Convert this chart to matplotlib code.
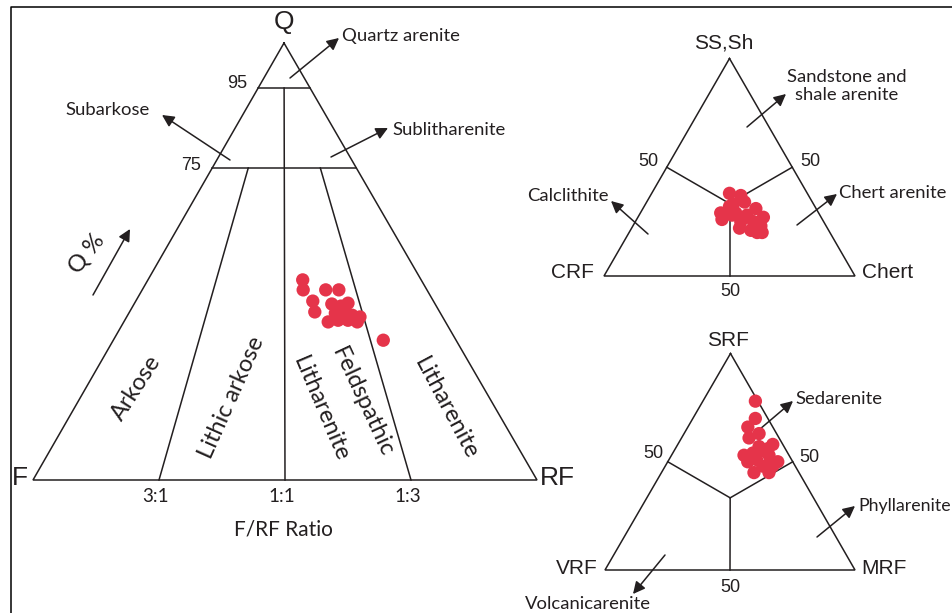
import numpy as np
import matplotlib
matplotlib.use('Agg')
from matplotlib import pyplot as plt

# Q-F-RF main diagram: sample compositions (%)
qfr_q = [48.1, 45.7, 45.7, 45.7, 43.0, 40.4, 42.3, 41.8, 42.5,
         40.1, 40.1, 39.6, 39.2, 38.0, 38.4, 38.4, 38.0, 33.6]
qfr_f = [22.5, 23.6, 19.3, 16.8, 23.1, 24.0, 19.8, 18.3, 16.6,
         20.2, 18.3, 17.2, 15.9, 22.6, 20.5, 18.6, 17.0, 14.1]
qfr_rf = [29.4, 30.7, 35.0, 37.5, 33.9, 35.6, 37.9, 39.9, 40.9,
          39.7, 41.6, 43.2, 44.9, 39.4, 41.1, 43.0, 45.0, 52.3]

# SS,Sh - CRF - Chert diagram (%)
ss_sh = [38, 37, 33, 34, 32, 29, 31, 29, 28, 27,
         26, 25, 25, 23, 22, 21, 20, 20, 28]
ss_crf = [31, 27, 32, 27, 34, 33, 24, 39, 29, 23,
          40, 33, 28, 26, 35, 31, 27, 29, 35]
ss_chert = [31, 36, 35, 39, 34, 38, 45, 32, 43, 50,
            34, 42, 47, 51, 43, 48, 53, 51, 37]

# SRF - VRF - MRF diagram (%)
srf = [78, 70, 66, 63, 61, 58, 56, 53, 54, 55,
       53, 50, 51, 50, 50, 48, 45, 45, 48, 57]
srf_vrf = [1, 5, 10, 7, 12, 4, 7, 18, 14, 10,
           8, 18, 14, 9, 6, 13, 18, 12, 9, 10]
srf_mrf = [21, 25, 24, 30, 27, 38, 37, 29, 32, 35,
           39, 32, 35, 41, 44, 39, 37, 43, 43, 33]

# main triangle is schematic: Q% is stretched onto height
q_levels = [0, 75, 95, 100]
q_heights = [0, 0.714, 0.897, 1.0]
ratio_lines = [0.25, 0.5, 0.75]
ratio_labels = ['3:1', '1:1', '1:3']

DOT = '#e5344a'
INK = '#231f20'
LW = 1.1
DOT_SIZE = 92
LABEL_FONT = 'Lato'
CORNER_FONT = 'Liberation Sans'
LABEL_SIZE = 13.3
FIELD_SIZE = 17

QFR = dict(top=(284, 43), left=(33, 480), right=(537, 480))
TOP = dict(top=(729.5, 58.5), left=(604, 276), right=(855, 276))
BOT = dict(top=(730.5, 353.5), left=(605, 570), right=(855, 570))


def qfr_xy(q, f, rf):
    q = np.asarray(q, float)
    r = np.asarray(rf, float) / (np.asarray(f, float) + np.asarray(rf, float))
    h = np.interp(q, q_levels, q_heights)
    tx, ty = QFR['top']
    lx, ly = QFR['left']
    rx, ry = QFR['right']
    xl = lx + h * (tx - lx)
    xr = rx + h * (tx - rx)
    return xl + r * (xr - xl), ly + h * (ty - ly)


def tern_xy(tri, a, b, c):
    a = np.asarray(a, float)
    b = np.asarray(b, float)
    c = np.asarray(c, float)
    s = a + b + c
    a, b, c = a / s, b / s, c / s
    x = a * tri['top'][0] + b * tri['left'][0] + c * tri['right'][0]
    y = a * tri['top'][1] + b * tri['left'][1] + c * tri['right'][1]
    return x, y


def outline(ax, tri):
    pts = [tri['top'], tri['left'], tri['right'], tri['top']]
    ax.plot([p[0] for p in pts], [p[1] for p in pts], color=INK, lw=LW,
            solid_joinstyle='miter')


def seg(ax, p0, p1):
    ax.plot([p0[0], p1[0]], [p0[1], p1[1]], color=INK, lw=LW)


def arrow(ax, tail, head):
    ax.annotate('', xy=head, xytext=tail,
                arrowprops=dict(arrowstyle='-|>', color=INK, lw=LW,
                                shrinkA=0, shrinkB=0, mutation_scale=18))


def label(ax, x, y, s, size=LABEL_SIZE, font=LABEL_FONT, **kw):
    kw.setdefault('ha', 'center')
    kw.setdefault('va', 'center')
    ax.text(x, y, s, fontsize=size, family=font, color=INK, **kw)


def small_triangle(ax, tri, a, b, c):
    outline(ax, tri)
    centre = tern_xy(tri, 1, 1, 1)
    for mid in [(1, 1, 0), (1, 0, 1), (0, 1, 1)]:
        seg(ax, tern_xy(tri, *mid), centre)
    x, y = tern_xy(tri, a, b, c)
    ax.scatter(x, y, s=DOT_SIZE, color=DOT, edgecolors='none', zorder=5)


fig = plt.figure(figsize=(9.52, 6.13), dpi=100)
ax = fig.add_axes([0, 0, 1, 1])
ax.set_xlim(0, 952)
ax.set_ylim(613, 0)
ax.axis('off')

# frame (top and left only)
ax.plot([952, 10.5, 10.5], [6.5, 6.5, 613], color='black', lw=1.1)

# ---- Q / F / RF ----
outline(ax, QFR)
for q in [95, 75]:
    seg(ax, qfr_xy(q, 1, 0), qfr_xy(q, 0, 1))
for r, txt in zip(ratio_lines, ratio_labels):
    qmax = 95 if r == 0.5 else 75
    seg(ax, qfr_xy(0, 1 - r, r), qfr_xy(qmax, 1 - r, r))
    bx, by = qfr_xy(0, 1 - r, r)
    label(ax, bx - 3, by + 16, txt, size=13.5)
x, y = qfr_xy(qfr_q, qfr_f, qfr_rf)
ax.scatter(x, y, s=DOT_SIZE, color=DOT, edgecolors='none', zorder=5)

label(ax, 284, 22, 'Q', size=19, font=CORNER_FONT)
label(ax, 20, 478, 'F', size=19, font=CORNER_FONT)
label(ax, 557, 478, 'RF', size=19, font=CORNER_FONT)
label(ax, 237, 84, '95', size=13, font=CORNER_FONT)
label(ax, 191, 165, '75', size=13, font=CORNER_FONT)
label(ax, 283, 529, 'F/RF Ratio', size=15)

label(ax, 342, 36, 'Quartz arenite', ha='left')
arrow(ax, (290, 78), (339, 38))
label(ax, 108, 110, 'Subarkose')
arrow(ax, (230, 160), (162, 115))
label(ax, 392, 130, 'Sublitharenite', ha='left')
arrow(ax, (331, 157), (388, 128))

label(ax, 87, 254, 'Q %', size=FIELD_SIZE, rotation=52)
arrow(ax, (93, 295), (130, 229))
label(ax, 136, 388, 'Arkose', size=FIELD_SIZE, rotation=57)
label(ax, 232, 398, 'Lithic arkose', size=FIELD_SIZE, rotation=66)
label(ax, 321, 409, 'Litharenite', size=FIELD_SIZE, rotation=-67)
label(ax, 362, 402, 'Feldspathic', size=FIELD_SIZE, rotation=-65)
label(ax, 446, 408, 'Litharenite', size=FIELD_SIZE, rotation=-62)

# ---- SS,Sh / CRF / Chert ----
small_triangle(ax, TOP, ss_sh, ss_crf, ss_chert)
label(ax, 724, 43, 'SS,Sh', size=15, font=CORNER_FONT)
label(ax, 572, 272, 'CRF', size=15, font=CORNER_FONT)
label(ax, 888, 272, 'Chert', size=15, font=CORNER_FONT)
label(ax, 648, 161, '50', size=13, font=CORNER_FONT)
label(ax, 810, 161, '50', size=13, font=CORNER_FONT)
label(ax, 730, 292, '50', size=13, font=CORNER_FONT)
label(ax, 847, 86, 'Sandstone and\nshale arenite', linespacing=1.1)
arrow(ax, (747, 127), (786, 94))
label(ax, 568, 196, 'Calclithite')
arrow(ax, (648, 234), (611, 201))
label(ax, 839, 193, 'Chert arenite', ha='left')
arrow(ax, (797, 225), (837, 194))

# ---- SRF / VRF / MRF ----
small_triangle(ax, BOT, srf, srf_vrf, srf_mrf)
label(ax, 728, 340, 'SRF', size=15, font=CORNER_FONT)
label(ax, 577, 568, 'VRF', size=15, font=CORNER_FONT)
label(ax, 884, 569, 'MRF', size=15, font=CORNER_FONT)
label(ax, 653, 453, '50', size=13, font=CORNER_FONT)
label(ax, 809, 458, '50', size=13, font=CORNER_FONT)
label(ax, 730, 587, '50', size=13, font=CORNER_FONT)
label(ax, 795, 399, 'Sedarenite', ha='left')
arrow(ax, (753, 435), (793, 401))
label(ax, 858, 506, 'Phyllarenite', ha='left', size=12.8)
arrow(ax, (817, 537), (855, 506))
label(ax, 588, 604, 'Volcanicarenite')
arrow(ax, (665, 555), (633, 594))

fig.savefig('out.png', dpi=100)
